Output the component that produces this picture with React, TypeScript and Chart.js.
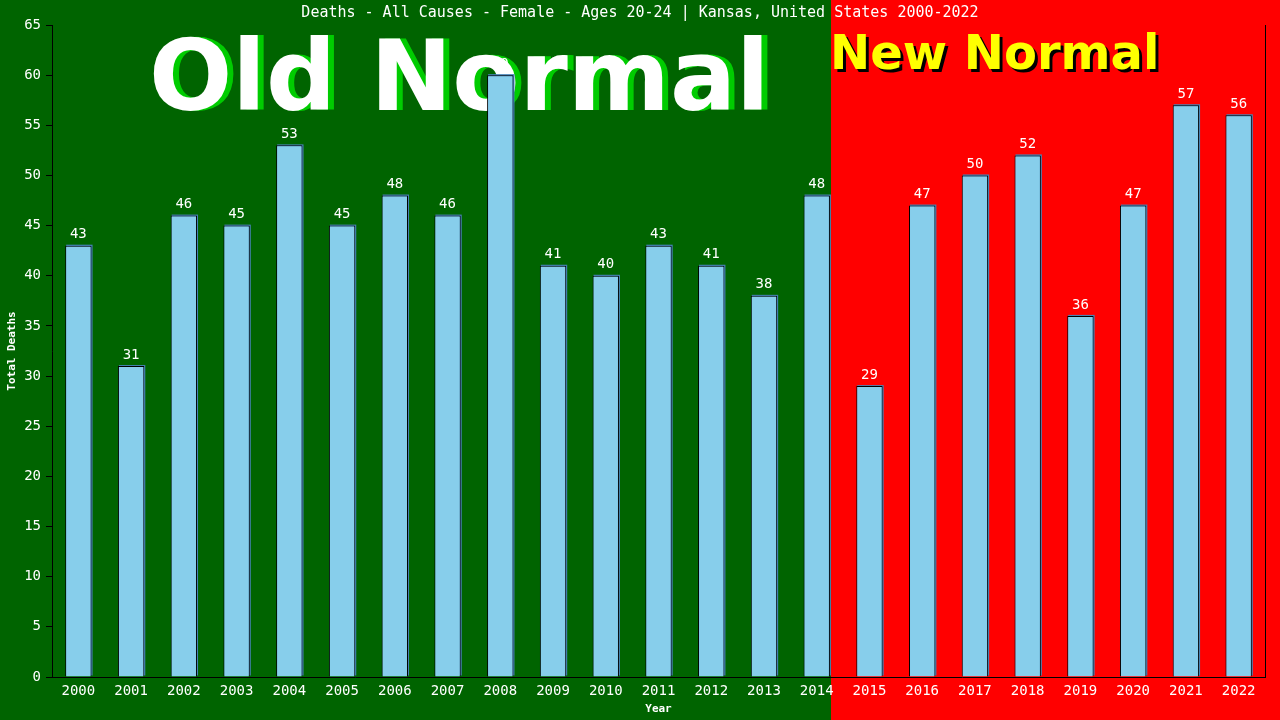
import React, { useEffect, useRef } from 'react';
import { Chart, ChartConfiguration, Plugin, registerables } from 'chart.js';

Chart.register(...registerables);

const years = [
  '2000', '2001', '2002', '2003', '2004', '2005', '2006', '2007', '2008', '2009', '2010', '2011',
  '2012', '2013', '2014', '2015', '2016', '2017', '2018', '2019', '2020', '2021', '2022',
];
const deaths = [43, 31, 46, 45, 53, 45, 48, 46, 60, 41, 40, 43, 41, 38, 48, 29, 47, 50, 52, 36, 47, 57, 56];
// last "old normal" year, the background turns red after its bar
const splitYear = '2014';

const chartTitle = 'Deaths - All Causes - Female - Ages 20-24 | Kansas, United States 2000-2022';
const MONO = '"DejaVu Sans Mono", "Liberation Mono", monospace';
const SANS = '"DejaVu Sans", Verdana, sans-serif';
const GREEN = '#006400';
const RED = '#ff0000';

const decorPlugin: Plugin<'bar'> = {
  id: 'decor',
  beforeDraw(chart) {
    const { ctx, width, height } = chart;
    const meta = chart.getDatasetMeta(0);
    const el: any = meta.data[years.indexOf(splitYear)];
    const splitX = Math.round(el.x + el.width / 2 + 1);
    ctx.save();
    ctx.fillStyle = GREEN;
    ctx.fillRect(0, 0, splitX, height);
    ctx.fillStyle = RED;
    ctx.fillRect(splitX, 0, width - splitX, height);

    // chart title
    ctx.fillStyle = '#fff';
    ctx.font = `15px ${MONO}`;
    ctx.textAlign = 'center';
    ctx.textBaseline = 'middle';
    ctx.fillText(chartTitle, width / 2, 13);

    // big labels
    ctx.textAlign = 'left';
    ctx.textBaseline = 'alphabetic';
    ctx.font = `bold 98px ${SANS}`;
    ctx.fillStyle = '#00cc00';
    ctx.fillText('Old Normal', 155, 110);
    ctx.fillStyle = '#fff';
    ctx.fillText('Old Normal', 149, 110);

    ctx.font = `bold 48px ${SANS}`;
    ctx.fillStyle = '#000';
    ctx.fillText('New Normal', splitX + 2, 72);
    ctx.fillStyle = '#ffff00';
    ctx.fillText('New Normal', splitX - 1, 69);
    ctx.restore();
  },
  beforeDatasetsDraw(chart) {
    const { ctx } = chart;
    ctx.save();
    ctx.fillStyle = '#4682b4';
    chart.getDatasetMeta(0).data.forEach((b: any) => {
      ctx.fillRect(b.x - b.width / 2 + 1, b.y - 1, b.width, b.base - b.y);
    });
    ctx.restore();
  },
  afterDatasetsDraw(chart) {
    const { ctx, chartArea } = chart;
    ctx.save();
    ctx.fillStyle = '#fff';
    ctx.font = `14px ${MONO}`;
    ctx.textAlign = 'center';
    ctx.textBaseline = 'bottom';
    chart.getDatasetMeta(0).data.forEach((b: any, i) => {
      ctx.fillText(String(deaths[i]), b.x, b.y - 4);
    });
    // right border
    ctx.strokeStyle = '#000';
    ctx.lineWidth = 1;
    ctx.beginPath();
    ctx.moveTo(Math.round(chartArea.right) + 0.5, chartArea.top);
    ctx.lineTo(Math.round(chartArea.right) + 0.5, chartArea.bottom);
    ctx.stroke();
    ctx.restore();
  },
};

const App: React.FC = () => {
  const canvasRef = useRef<HTMLCanvasElement>(null);

  useEffect(() => {
    if (!canvasRef.current) return;
    const config: ChartConfiguration<'bar'> = {
      type: 'bar',
      data: {
        labels: years,
        datasets: [
          {
            label: 'Total Deaths',
            data: deaths,
            backgroundColor: '#87ceeb',
            borderColor: '#000',
            borderWidth: 1,
            barPercentage: 0.5,
            categoryPercentage: 1,
          },
        ],
      },
      options: {
        responsive: false,
        animation: false,
        devicePixelRatio: 1,
        layout: { padding: { top: 25, right: 15, left: 0, bottom: 0 } },
        plugins: { legend: { display: false }, tooltip: { enabled: false } },
        scales: {
          x: {
            grid: { display: false, drawTicks: false },
            border: { color: '#000', width: 1 },
            ticks: { color: '#fff', font: { family: MONO, size: 14 }, padding: 6, maxRotation: 0, autoSkip: false },
            title: {
              display: true,
              text: 'Year',
              color: '#fff',
              font: { family: MONO, size: 11, weight: 'bold' },
              padding: { top: 0, bottom: 4 },
            },
            afterFit: (scale) => {
              scale.height = 43;
            },
          },
          y: {
            min: 0,
            max: 65,
            grid: { drawOnChartArea: false, color: '#000', tickLength: 6 },
            border: { color: '#000', width: 1 },
            ticks: { stepSize: 5, color: '#fff', font: { family: MONO, size: 14 }, padding: 5 },
            title: {
              display: true,
              text: 'Total Deaths',
              color: '#fff',
              font: { family: MONO, size: 11, weight: 'bold' },
              padding: { top: 6, bottom: 0 },
            },
            afterFit: (scale) => {
              scale.width = 52;
            },
          },
        },
      },
      plugins: [decorPlugin],
    };
    const chart = new Chart(canvasRef.current, config);
    return () => chart.destroy();
  }, []);

  return (
    <div style={{ position: 'fixed', left: 0, top: 0, width: 1280, height: 720 }}>
      <canvas ref={canvasRef} width={1280} height={720} style={{ display: 'block' }} />
    </div>
  );
};

export default App;
